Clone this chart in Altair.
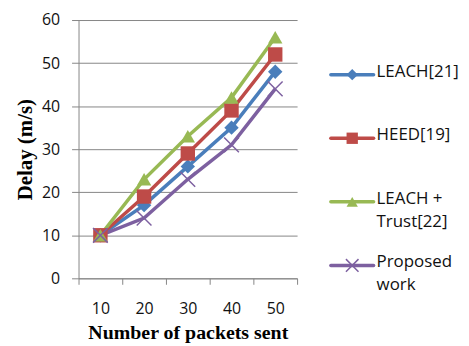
import altair as alt
import pandas as pd

packets = [10, 20, 30, 40, 50]
series_names = ["LEACH[21]", "HEED[19]", "LEACH + Trust[22]", "Proposed work"]
legend_labels = ["LEACH[21]", "HEED[19]", "LEACH +\nTrust[22]", "Proposed\nwork"]
leach = [10, 17, 26, 35, 48]
heed = [10, 19, 29, 39, 52]
leach_trust = [10, 23, 33, 42, 56]
proposed = [10, 14, 23, 31, 44]
y_ticks = [0, 10, 20, 30, 40, 50, 60]
x_edges = [5, 15, 25, 35, 45, 55]

colors = ["#4a7ebb", "#be4b48", "#98b954", "#7d60a0"]
X_PATH = "M-1,-1L1,1M-1,1L1,-1"
shapes = ["diamond", "square", "triangle-up", X_PATH]

rows = []
for name, vals in zip(series_names, [leach, heed, leach_trust, proposed]):
    for p, v in zip(packets, vals):
        rows.append({"series": name, "packets": p, "delay": v})
df = pd.DataFrame(rows)

leg = pd.DataFrame({"series": series_names, "label": legend_labels})

color_scale = alt.Scale(domain=series_names, range=colors)
shape_scale = alt.Scale(domain=series_names, range=shapes)

GREY = "#868686"

x_enc = alt.X(
    "packets:Q",
    scale=alt.Scale(domain=[5, 55], nice=False, zero=False),
    axis=alt.Axis(
        values=x_edges,
        labelExpr="datum.value < 55 ? datum.value + 5 : ''",
        labelOffset=22,
        labelFlush=False,
        grid=False,
        tickSize=6,
        labelPadding=16,
        title="Number of packets sent",
        titlePadding=7,
        titleFontSize=20,
    ),
)
y_enc = alt.Y(
    "delay:Q",
    scale=alt.Scale(domain=[0, 60], nice=False),
    axis=alt.Axis(
        values=y_ticks,
        grid=True,
        tickSize=7,
        labelPadding=12,
        title="Delay (m/s)",
        titlePadding=6,
    ),
)

base = alt.Chart(df)
lines = base.mark_line(strokeWidth=3.5).encode(
    x=x_enc, y=y_enc,
    color=alt.Color("series:N", scale=color_scale, legend=None),
    detail="series:N",
)
pts = base.transform_filter(alt.datum.series != "Proposed work").mark_point(
    filled=True, size=210, opacity=1
).encode(
    x="packets:Q", y="delay:Q",
    color=alt.Color("series:N", scale=color_scale, legend=None),
    shape=alt.Shape("series:N", scale=shape_scale, legend=None),
)
crosses = base.transform_filter(alt.datum.series == "Proposed work").mark_point(
    shape=X_PATH, filled=False, size=220, strokeWidth=1.5, color="#7d60a0", opacity=1
).encode(x="packets:Q", y="delay:Q")

main = alt.layer(lines, pts, crosses).properties(width=220, height=260)

lbase = alt.Chart(leg)
ly = alt.Y("series:N", scale=alt.Scale(type="point", domain=series_names, range=[55, 247], padding=0), axis=None)
lx_scale = alt.Scale(domain=[0, 1], range=[0, 43])
lrule = lbase.mark_rule(strokeWidth=3.5, strokeCap="round").encode(
    x=alt.datum(0, scale=lx_scale, axis=None), x2=alt.datum(1), y=ly,
    color=alt.Color("series:N", scale=color_scale, legend=None),
)
lpts = lbase.transform_filter(alt.datum.series != "Proposed work").mark_point(
    filled=True, size=130, opacity=1
).encode(
    x=alt.datum(0.5), y=ly,
    color=alt.Color("series:N", scale=color_scale, legend=None),
    shape=alt.Shape("series:N", scale=shape_scale, legend=None),
)
lcross = lbase.transform_filter(alt.datum.series == "Proposed work").mark_point(
    shape=X_PATH, filled=False, size=160, strokeWidth=1.5, color="#7d60a0", opacity=1
).encode(x=alt.datum(0.5), y=ly)
ltext = lbase.transform_calculate(first="split(datum.label, '\\n')").mark_text(
    align="left", baseline="top", dx=3, dy=-11, fontSize=17, font="Open Sans",
    color="#111111", lineHeight=23,
).encode(x=alt.datum(1), y=ly, text="first:N")

legend_chart = alt.layer(lrule, lpts, lcross, ltext).properties(width=43, height=260)

chart = alt.hconcat(main, legend_chart, spacing=31).properties(
    padding={"left": 6, "top": 3, "right": 2, "bottom": 0}
).configure_view(stroke=None).configure_axis(
    labelFont="Open Sans", labelFontSize=16, labelColor="#111111",
    titleFont="Liberation Serif", titleFontWeight="bold", titleFontSize=21, titleColor="#000000",
    domainColor=GREY, tickColor=GREY, gridColor=GREY, domainWidth=1, tickWidth=1, gridWidth=1,
)

chart.save("out.html", embed_options={"renderer": "svg", "actions": False})
